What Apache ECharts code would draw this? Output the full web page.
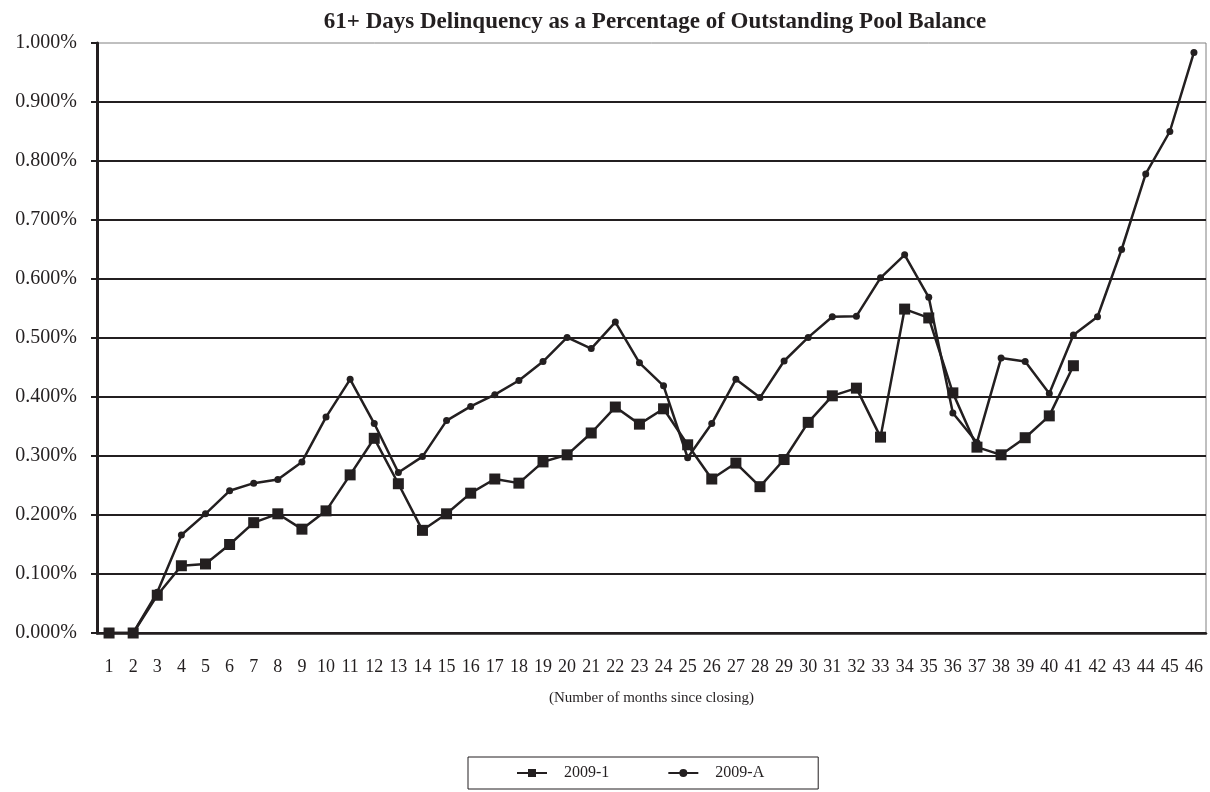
<!DOCTYPE html>
<html>
<head>
<meta charset="utf-8">
<script src="https://cdn.jsdelivr.net/npm/echarts@6/dist/echarts.min.js"></script>
<style>
  html, body { margin: 0; padding: 0; background: #fff; }
  #main { width: 1210px; height: 792px; }
</style>
</head>
<body>
<div id="main"></div>
<script type="text/javascript">
    // months since closing, 1..46
    var months = [];
    for (var i = 1; i <= 46; i++) { months.push(String(i)); }

    // 61+ day delinquency, % of outstanding pool balance
    var pool2009_1 = [0, 0, 0.064, 0.114, 0.117, 0.150, 0.187, 0.202, 0.176, 0.207,
        0.268, 0.330, 0.253, 0.174, 0.202, 0.237, 0.261, 0.254, 0.290, 0.302,
        0.339, 0.383, 0.354, 0.380, 0.319, 0.261, 0.288, 0.248, 0.294, 0.357,
        0.402, 0.415, 0.332, 0.549, 0.534, 0.407, 0.315, 0.302, 0.331, 0.368,
        0.453];
    var pool2009_A = [0, 0, 0.069, 0.166, 0.202, 0.241, 0.254, 0.260, 0.290, 0.366,
        0.430, 0.355, 0.272, 0.299, 0.360, 0.384, 0.404, 0.428, 0.460, 0.501,
        0.482, 0.527, 0.458, 0.419, 0.297, 0.355, 0.430, 0.399, 0.461, 0.501,
        0.536, 0.537, 0.602, 0.641, 0.569, 0.373, 0.323, 0.466, 0.460, 0.406,
        0.505, 0.536, 0.650, 0.778, 0.850, 0.984];

    var ink = '#231f20';
    var serif = '"Liberation Serif", "Times New Roman", serif';

    var myChart = echarts.init(document.getElementById('main'));

    var option = {
        backgroundColor: '#fff',
        animation: false,
        textStyle: { fontFamily: serif, color: ink },
        title: {
            text: '61+ Days Delinquency as a Percentage of Outstanding Pool Balance',
            left: 650,
            top: 6,
            textAlign: 'center',
            textStyle: { fontFamily: serif, fontWeight: 'bold', fontSize: 23, color: ink }
        },
        grid: {
            left: 97, right: 4, top: 43, bottom: 159,
            show: true, borderColor: '#808080', borderWidth: 1
        },
        legend: {
            data: ['2009-1', '2009-A'],
            left: 468,
            top: 757,
            padding: [8, 54, 8, 48],
            itemGap: 58,
            itemWidth: 30,
            itemHeight: 10,
            borderColor: ink,
            borderWidth: 1,
            textStyle: { fontFamily: serif, fontSize: 16, color: ink, padding: [0, 0, 0, 12] }
        },
        xAxis: {
            type: 'category',
            data: months,
            boundaryGap: true,
            name: '(Number of months since closing)',
            nameLocation: 'middle',
            nameGap: 58,
            nameTextStyle: { fontFamily: serif, fontSize: 15, color: ink },
            axisLine: { lineStyle: { color: ink, width: 2.5 } },
            axisTick: { length: 6, lineStyle: { color: ink, width: 2 } },
            axisLabel: { interval: 0, margin: 25, fontSize: 18, color: ink, fontFamily: serif }
        },
        yAxis: {
            type: 'value',
            min: 0,
            max: 1,
            interval: 0.1,
            axisLine: { show: true, lineStyle: { color: ink, width: 3 } },
            axisTick: { show: true, length: 6, lineStyle: { color: ink, width: 2 } },
            axisLabel: {
                margin: 20, fontSize: 20, color: ink, fontFamily: serif,
                formatter: function (v) { return v.toFixed(3) + '%'; }
            },
            splitLine: { show: true, showMaxLine: false, lineStyle: { color: ink, width: 2 } }
        },
        series: [{
            name: '2009-1',
            type: 'line',
            data: pool2009_1,
            symbol: 'rect',
            symbolSize: 11,
            z: 3,
            itemStyle: { color: ink },
            lineStyle: { color: ink, width: 2.5 }
        }, {
            name: '2009-A',
            type: 'line',
            data: pool2009_A,
            symbol: 'circle',
            symbolSize: 7,
            z: 2,
            itemStyle: { color: ink },
            lineStyle: { color: ink, width: 2.5 }
        }]
    };

    myChart.setOption(option);
</script>
</body>
</html>
